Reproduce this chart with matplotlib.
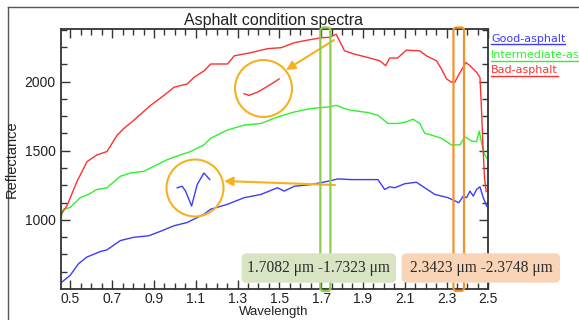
import matplotlib
matplotlib.use("Agg")
import matplotlib.pyplot as plt
import numpy as np
from matplotlib.patches import FancyBboxPatch, Circle
from matplotlib.lines import Line2D
from matplotlib.transforms import Affine2D

# --- data (wavelength in um, reflectance) ---
wl_good = [0.455, 0.499, 0.539, 0.579, 0.643, 0.675, 0.739, 0.803, 0.875, 0.931,
           0.995, 1.059, 1.091, 1.139, 1.171, 1.251, 1.331, 1.412, 1.491, 1.523,
           1.572, 1.652, 1.732, 1.780, 1.844, 1.972, 2.004, 2.028, 2.052, 2.100,
           2.156, 2.196, 2.244, 2.308, 2.359, 2.380, 2.396, 2.412, 2.428, 2.444,
           2.460, 2.476, 2.492]
refl_good = [545, 599, 683, 731, 771, 783, 850, 874, 885, 917,
             957, 981, 1005, 1040, 1077, 1112, 1160, 1184, 1232, 1208,
             1243, 1255, 1279, 1296, 1291, 1291, 1220, 1239, 1232, 1261,
             1272, 1232, 1184, 1160, 1124, 1172, 1160, 1208, 1172, 1220,
             1239, 1160, 1100]

wl_int = [0.455, 0.467, 0.499, 0.547, 0.587, 0.627, 0.675, 0.739, 0.787, 0.851,
          0.899, 0.963, 1.027, 1.075, 1.139, 1.171, 1.251, 1.331, 1.412, 1.491,
          1.572, 1.652, 1.732, 1.772, 1.812, 1.844, 1.924, 1.972, 2.020, 2.068,
          2.108, 2.140, 2.172, 2.196, 2.228, 2.276, 2.324, 2.364, 2.388, 2.420,
          2.444, 2.457, 2.476, 2.492]
refl_int = [1017, 1077, 1089, 1160, 1184, 1220, 1232, 1315, 1339, 1351,
            1387, 1435, 1470, 1494, 1542, 1590, 1649, 1685, 1697, 1744,
            1780, 1805, 1816, 1828, 1805, 1792, 1776, 1756, 1697, 1697,
            1709, 1728, 1697, 1626, 1613, 1590, 1542, 1542, 1601, 1570,
            1565, 1642, 1494, 1447]

wl_bad = [0.455, 0.483, 0.532, 0.580, 0.628, 0.675, 0.724, 0.756, 0.804, 0.884,
          0.948, 0.996, 1.060, 1.092, 1.141, 1.172, 1.252, 1.284, 1.364, 1.444,
          1.509, 1.572, 1.636, 1.701, 1.740, 1.772, 1.812, 1.860, 1.924, 1.980,
          2.009, 2.028, 2.066, 2.108, 2.172, 2.204, 2.252, 2.276, 2.300, 2.324,
          2.340, 2.356, 2.393, 2.412, 2.444, 2.460, 2.466, 2.474, 2.482, 2.490]
refl_bad = [1041, 1100, 1279, 1422, 1470, 1494, 1613, 1661, 1721, 1828,
            1900, 1959, 1983, 2031, 2079, 2127, 2127, 2186, 2209, 2238,
            2245, 2281, 2300, 2317, 2320, 2342, 2222, 2198, 2174, 2150,
            2115, 2170, 2170, 2227, 2222, 2186, 2150, 2091, 2019, 1995,
            1995, 2043, 2138, 2115, 2067, 2030, 1850, 1550, 1300, 1205]

# zoomed snippets shown inside the circles
inset_bad_wl = [1.331, 1.355, 1.395, 1.436, 1.475, 1.499]
inset_bad_refl = [1912, 1900, 1923, 1959, 1995, 2019]
inset_good_wl = [1.011, 1.035, 1.051, 1.080, 1.107, 1.139, 1.167]
inset_good_refl = [1232, 1243, 1208, 1100, 1256, 1339, 1291]

series_names = ["Good-asphalt", "Intermediate-asphalt", "Bad-asphalt"]
band_green = (1.7082, 1.7323)
band_orange = (2.3423, 2.3748)

# --- colours ---
c_blue, c_green, c_red = "#3c3cff", "#30f030", "#ff3030"
c_gold = "#f5b120"
c_band_green, c_band_orange = "#8fce4a", "#f0922e"
c_box_green, c_box_orange = "#d8e4c4", "#f9d4b6"

plt.rcParams["font.family"] = ["Liberation Sans", "DejaVu Sans"]

W, H = 579, 320
fig = plt.figure(figsize=(W / 100, H / 100), dpi=100)
pix = Affine2D().scale(1, -1).translate(0, H)  # pixel coords, origin top-left

ax = fig.add_axes([61 / W, 1 - 289 / H, (488.3 - 61) / W, (289 - 29) / H])
ax.plot(wl_good, refl_good, color=c_blue, lw=1.0)
ax.plot(wl_int, refl_int, color=c_green, lw=1.0)
ax.plot(wl_bad, refl_bad, color=c_red, lw=1.0)
ax.plot(inset_bad_wl, inset_bad_refl, color=c_red, lw=1.0)
ax.plot(inset_good_wl, inset_good_refl, color=c_blue, lw=1.0)

ax.set_xlim(0.455, 2.5)
ax.set_ylim(500, 2380)
ax.set_xticks(np.arange(0.5, 2.51, 0.2))
ax.set_xticklabels(["%.1f" % v for v in np.arange(0.5, 2.51, 0.2)])
ax.set_xticks(np.arange(0.5, 2.51, 0.05), minor=True)
ax.set_yticks([1000, 1500, 2000])
ax.set_yticks(np.arange(625, 2380, 125), minor=True)
ax.tick_params(which="both", direction="in", top=True, right=True,
               color="#333333", width=1, labelsize=10, labelcolor="#222222")
ax.tick_params(which="major", length=6.5)
ax.tick_params(which="minor", length=4)
ax.tick_params(axis="x", pad=2)
ax.tick_params(axis="y", pad=4)
for sp in ax.spines.values():
    sp.set_linewidth(1.3)
    sp.set_color("#333333")

# titles and axis labels
fig.text(273.5, 25, "Asphalt condition spectra", transform=pix, ha="center",
         va="baseline", fontsize=11.5, color="#222222")
fig.text(273.5, 314.5, "Wavelength", transform=pix, ha="center", va="baseline",
         fontsize=9.5, color="#222222")
fig.text(12, 159, "Reflectance", transform=pix, ha="center", va="center",
         rotation=90, fontsize=10.5, color="#222222")

# outer frame (partly visible)
fig.add_artist(Line2D([8, W], [7, 7], transform=pix, color="#555555", lw=1))
fig.add_artist(Line2D([8, 8], [7, H], transform=pix, color="#555555", lw=1))

# legend with underlined names
legend_texts = []
for name, col, yb in zip(series_names, [c_blue, c_green, c_red], [41.7, 58.3, 73.3]):
    t = fig.text(491, yb, name, transform=pix, color=col, fontsize=8,
                 family="DejaVu Sans", va="baseline")
    legend_texts.append((t, col, yb))
renderer = fig.canvas.get_renderer()
for t, col, yb in legend_texts:
    bb = t.get_window_extent(renderer)
    fig.add_artist(Line2D([491, bb.x1], [yb + 2.3, yb + 2.3], transform=pix,
                          color=col, lw=1))

# highlighted wavelength bands
for (lo, hi), col, pad in [(band_green, c_band_green, 0.012),
                           (band_orange, c_band_orange, 0.009)]:
    x0 = ax.transData.transform((lo - pad, 1000))[0]
    x1 = ax.transData.transform((hi + pad, 1000))[0]
    fig.add_artist(FancyBboxPatch((x0, 27.5), x1 - x0, 263.5,
                                  boxstyle="round,pad=0,rounding_size=3",
                                  transform=pix, fill=False, ec=col, lw=1.6, zorder=5))

# band labels
for (lo, hi), fc, x0, w in [(band_green, c_box_green, 241.7, 154.3),
                            (band_orange, c_box_orange, 401.7, 158.3)]:
    fig.add_artist(FancyBboxPatch((x0, 253.3), w, 29.4,
                                  boxstyle="round,pad=0,rounding_size=5",
                                  transform=pix, fc=fc, ec="none", zorder=6))
    fig.text(x0 + w / 2, 268.5, "%.4f μm -%.4f μm" % (lo, hi), transform=pix,
             ha="center", va="center", fontsize=11.2, color="#2b2b2b",
             family=["Liberation Serif", "DejaVu Serif"], zorder=7)

# circles and arrows pointing at the zoomed snippets
fig.add_artist(Circle((263.5, 88.5), 28.5, transform=pix, fill=False, ec=c_gold, lw=1.5))
fig.add_artist(Circle((195, 188), 28.5, transform=pix, fill=False, ec=c_gold, lw=1.5))
arrow = dict(arrowstyle="-|>", color=c_gold, lw=1.5, mutation_scale=13,
             shrinkA=0, shrinkB=0)
ax.annotate("", xy=(286, 70), xytext=(334, 40), xycoords=pix, textcoords=pix,
            arrowprops=arrow, annotation_clip=False)
ax.annotate("", xy=(224, 181), xytext=(335, 185), xycoords=pix, textcoords=pix,
            arrowprops=arrow, annotation_clip=False)

fig.savefig("out.png", dpi=100)
plt.close(fig)
